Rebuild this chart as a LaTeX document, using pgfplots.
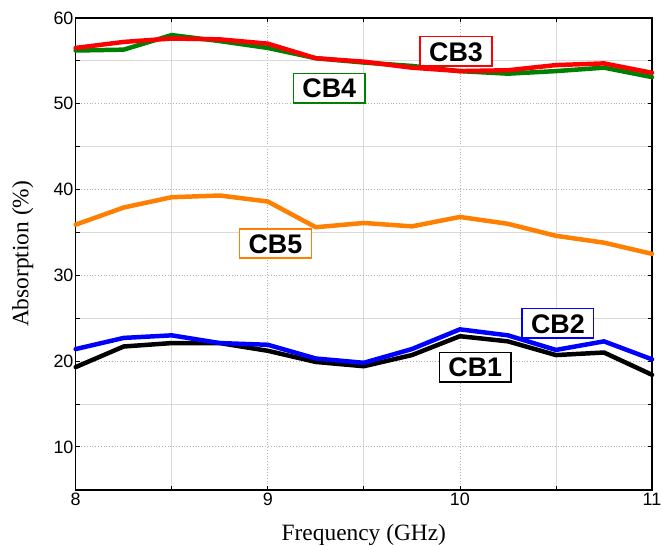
\documentclass[border=0pt]{standalone}
\usepackage{fontspec}
\setmainfont{Liberation Serif}
\newfontfamily\arial{Liberation Sans}
\usepackage{pgfplots}
\pgfplotsset{compat=1.18}
\definecolor{cbgreen}{RGB}{0,128,0}
\definecolor{cborange}{RGB}{255,128,0}
\begin{document}
\begin{tikzpicture}
\begin{axis}[
  name=ax,
  scale only axis,
  width=579pt, height=474pt,
  xmin=8, xmax=11, ymin=5, ymax=60,
  xtick={8,9,10,11}, ytick={10,20,30,40,50,60},
  minor xtick={8.5,9.5,10.5}, minor ytick={15,25,35,45,55},
  grid=both,
  major grid style={gray!60, line width=0.8pt, dotted},
  minor grid style={gray!30, line width=0.8pt},
  tick align=inside,
  major tick length=4pt, minor tick length=4pt,
  tick style={black, line width=0.8pt},
  axis line style={line width=1.5pt},
  /pgf/number format/assume math mode=true,
  tick label style={font=\arial\fontsize{18}{18}\selectfont},
  yticklabel style={inner sep=0pt, xshift=-2pt},
  xticklabel style={inner sep=0pt, yshift=-3pt},
  xlabel={Frequency (GHz)},
  ylabel={Absorption (\%)},
  every axis x label/.style={at={(axis description cs:0.5,-0.1076)}, anchor=base, font=\fontsize{23.5}{23.5}\selectfont},
  every axis y label/.style={at={(axis description cs:-0.092,0.5)}, rotate=90, anchor=center, font=\fontsize{23.5}{23.5}\selectfont},
  clip=false,
  every axis plot/.append style={line width=4.5pt, line join=round, line cap=round},
]
\addplot[black] coordinates {(8,19.3)(8.25,21.7)(8.5,22.1)(8.75,22.1)(9,21.2)(9.25,19.9)(9.5,19.4)(9.75,20.7)(10,22.9)(10.25,22.3)(10.5,20.7)(10.75,21.0)(11,18.4)};
\addplot[blue] coordinates {(8,21.4)(8.25,22.7)(8.5,23.0)(8.75,22.1)(9,21.9)(9.25,20.3)(9.5,19.8)(9.75,21.4)(10,23.7)(10.25,23.0)(10.5,21.3)(10.75,22.3)(11,20.2)};
\addplot[cborange] coordinates {(8,35.9)(8.25,37.9)(8.5,39.1)(8.75,39.3)(9,38.6)(9.25,35.6)(9.5,36.1)(9.75,35.7)(10,36.8)(10.25,36.0)(10.5,34.6)(10.75,33.8)(11,32.5)};
\addplot[cbgreen] coordinates {(8,56.2)(8.25,56.3)(8.5,58.0)(8.75,57.3)(9,56.5)(9.25,55.3)(9.5,54.8)(9.75,54.4)(10,53.8)(10.25,53.5)(10.5,53.8)(10.75,54.2)(11,53.1)};
\addplot[red] coordinates {(8,56.5)(8.25,57.2)(8.5,57.6)(8.75,57.5)(9,57.0)(9.25,55.3)(9.5,54.9)(9.75,54.2)(10,53.8)(10.25,53.9)(10.5,54.5)(10.75,54.7)(11,53.6)};
\tikzset{cbl/.style={draw=#1, line width=1.5pt, fill=white, font=\arial\bfseries\fontsize{27}{27}\selectfont, inner xsep=9pt, inner ysep=5pt, text height=19.5pt, text depth=0pt}}
\node[cbl=red] at (axis cs:9.98,56.1) {CB3};
\node[cbl=cbgreen] at (axis cs:9.32,51.8) {CB4};
\node[cbl=cborange] at (axis cs:9.04,33.7) {CB5};
\node[cbl=blue] at (axis cs:10.51,24.4) {CB2};
\node[cbl=black] at (axis cs:10.08,19.3) {CB1};
\end{axis}
\pgfresetboundingbox
\path (ax.south west) ++(-76pt,-56pt) rectangle ++(665pt,548pt);
\end{tikzpicture}
\end{document}
